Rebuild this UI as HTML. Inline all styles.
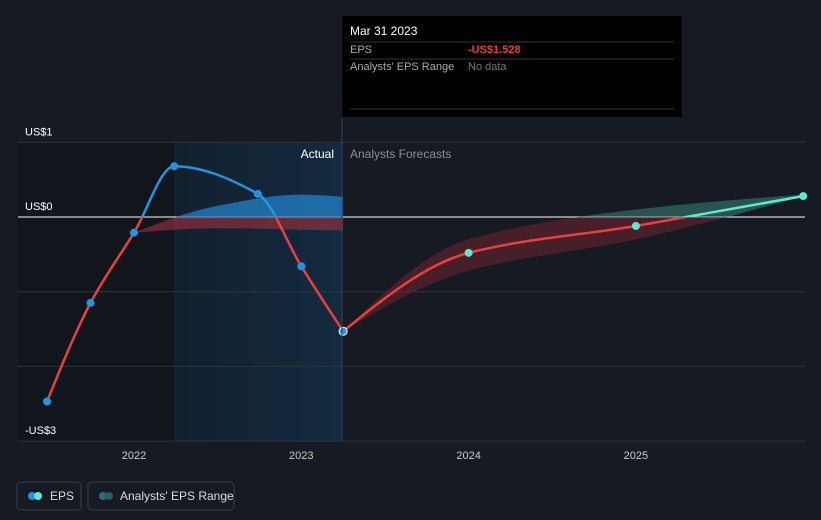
<!DOCTYPE html>
<html><head><meta charset="utf-8"><style>
html,body{margin:0;background:#151a23;font-family:"Liberation Sans",sans-serif;overflow:hidden;}
svg{display:block;}
svg text{font-family:"Liberation Sans",sans-serif;}
</style></head><body>
<svg id="c" width="821" height="520" viewBox="0 0 821 520">
<rect width="821" height="520" fill="#151a23"/>
<rect x="18" y="143" width="156" height="298" fill="#11151c"/>
<defs>
<linearGradient id="hl" x1="0" x2="1"><stop offset="0" stop-color="#13202e"/><stop offset="1" stop-color="#132a40"/></linearGradient>
<clipPath id="above"><rect x="0" y="0" width="821" height="217"/></clipPath>
<clipPath id="below"><rect x="0" y="217" width="821" height="303"/></clipPath>
</defs>
<rect x="174" y="143" width="168" height="298" fill="url(#hl)"/>
<g id="grid"></g>
<g id="bands"></g>
<g id="lines"></g>
<g id="dots"></g>
<text x="334" y="158" fill="#fff" font-size="12" text-anchor="end">Actual</text>
<text x="350" y="158" fill="#8a8f98" font-size="12">Analysts Forecasts</text>
<line x1="342" y1="117" x2="342" y2="441" stroke="#2a4660" stroke-width="1"/>
<g>
<rect x="342" y="16" width="340" height="101" fill="#000"/>
<text x="350" y="35" fill="#fff" font-size="12">Mar 31 2023</text>
<line x1="350" y1="42" x2="674" y2="42" stroke="#333"/>
<text x="350" y="53" fill="#aaa" font-size="11">EPS</text>
<text x="468" y="53" fill="#e8403f" font-size="11" font-weight="bold">-US$1.528</text>
<line x1="350" y1="59" x2="674" y2="59" stroke="#333"/>
<text x="350" y="70" fill="#aaa" font-size="11">Analysts' EPS Range</text>
<text x="468" y="70" fill="#777" font-size="11">No data</text>
<line x1="350" y1="109" x2="674" y2="109" stroke="#333"/>
</g>
<g>
<rect x="17" y="482" width="64" height="28" rx="4" fill="none" stroke="#3a3f48"/>
<circle cx="32" cy="496" r="4" fill="#2394df"/><circle cx="38" cy="496" r="4" fill="#5ee8d0"/>
<text x="50" y="500" fill="#ddd" font-size="12">EPS</text>
</g>
<g>
<rect x="88" y="482" width="146" height="28" rx="4" fill="none" stroke="#3a3f48"/>
<circle cx="103" cy="496" r="4" fill="#2a6a8a"/><circle cx="109" cy="496" r="4" fill="#2f5e5a"/>
<text x="120" y="500" fill="#ddd" font-size="12">Analysts' EPS Range</text>
</g>
</svg>
<script>
const yTicks=[1,0,-1,-2,-3];
const yLabels=["US$1","US$0","","","-US$3"];
const xTicks=[2022,2023,2024,2025];
const epsDates=[2021.48,2021.74,2022.0,2022.24,2022.74,2023.0,2023.25,2024.0,2025.0,2026.0];
const epsValues=[-2.47,-1.15,-0.21,0.68,0.31,-0.66,-1.53,-0.48,-0.12,0.28];
const pastRangeDates=[2022.0,2022.5,2023.0,2023.25];
const pastRangeHigh=[-0.21,0.15,0.3,0.27];
const pastRangeLow=[-0.21,-0.15,-0.17,-0.18];
const fcRangeDates=[2023.25,2024.0,2025.0,2026.0];
const fcRangeHigh=[-1.53,-0.3,0.1,0.3];
const fcRangeLow=[-1.53,-0.72,-0.3,0.28];
const actualCount=7;
const X=d=>134+(d-2022)*167.3, Y=v=>217-v*74.7;
const NS="http://www.w3.org/2000/svg";
function mk(t,a,p){const e=document.createElementNS(NS,t);for(const k in a)e.setAttribute(k,a[k]);p.appendChild(e);return e;}
function segs(pts){const n=pts.length;if(n<2)return "";
const s=[],m=[];for(let i=0;i<n-1;i++)s.push((pts[i+1][1]-pts[i][1])/(pts[i+1][0]-pts[i][0]));
for(let i=0;i<n;i++){if(i===0)m.push(s[0]);else if(i===n-1)m.push(s[n-2]);
else{const a=s[i-1],b=s[i];m.push(a*b<=0?0:(2*a*b)/(a+b));}}
if(n>2){m[0]=(3*s[0]-m[1])/2;m[n-1]=(3*s[n-2]-m[n-2])/2;}
let d="";for(let i=0;i<n-1;i++){const h=(pts[i+1][0]-pts[i][0])/3;
d+=" C"+(pts[i][0]+h)+","+(pts[i][1]+m[i]*h)+" "+(pts[i+1][0]-h)+","+(pts[i+1][1]-m[i+1]*h)+" "+pts[i+1][0]+","+pts[i+1][1];}return d;}
function path(pts){return "M"+pts[0][0]+","+pts[0][1]+segs(pts);}
const g=document.getElementById('grid');
yTicks.forEach((v,i)=>{const l=mk('line',{x1:18,x2:805,y1:Y(v),y2:Y(v),stroke:v===0?'#fff':'#2e343d','stroke-width':1},g);

if(yLabels[i]){const t=mk('text',{x:25,y:Y(v)-7,fill:'#fff','font-size':11},g);t.textContent=yLabels[i];
}});
xTicks.forEach(v=>{const t=mk('text',{x:X(v),y:459,fill:'#ccc','font-size':11,'text-anchor':'middle'},g);t.textContent=v;
});
const b=document.getElementById('bands');
function band(ds,hi,lo,ca,cb){const top=ds.map((d,i)=>[X(d),Y(hi[i])]),bot=ds.map((d,i)=>[X(d),Y(lo[i])]).reverse();
const d=path(top)+" L"+bot[0][0]+","+bot[0][1]+segs(bot)+"Z";
const a=mk('path',{d:d,fill:ca,'clip-path':'url(#above)'},b);
const c=mk('path',{d:d,fill:cb,'clip-path':'url(#below)'},b);}
band(pastRangeDates,pastRangeHigh,pastRangeLow,'rgba(35,130,200,0.75)','rgba(160,50,60,0.6)');
band(fcRangeDates,fcRangeHigh,fcRangeLow,'rgba(60,140,130,0.5)','rgba(120,35,45,0.5)');
const L=document.getElementById('lines');
const pts=epsDates.map((d,i)=>[X(d),Y(epsValues[i])]);
const ap=pts.slice(0,actualCount),fp=pts.slice(actualCount-1);
[[ap,'#2394df'],[fp,'#5ee8d0']].forEach(([p,c])=>{
const u=mk('path',{d:path(p),fill:'none',stroke:c,'stroke-width':2.5,'clip-path':'url(#above)'},L);
const w=mk('path',{d:path(p),fill:'none',stroke:'#e8403f','stroke-width':2.5,'clip-path':'url(#below)'},L);});
const D=document.getElementById('dots');
pts.forEach((p,i)=>{const last=i===actualCount-1;const c=mk('circle',{cx:p[0],cy:p[1],r:4,fill:i<actualCount?'#2394df':'#5ee8d0',stroke:last?'#fff':'none','stroke-width':1},D);
});
</script>
</body></html>
